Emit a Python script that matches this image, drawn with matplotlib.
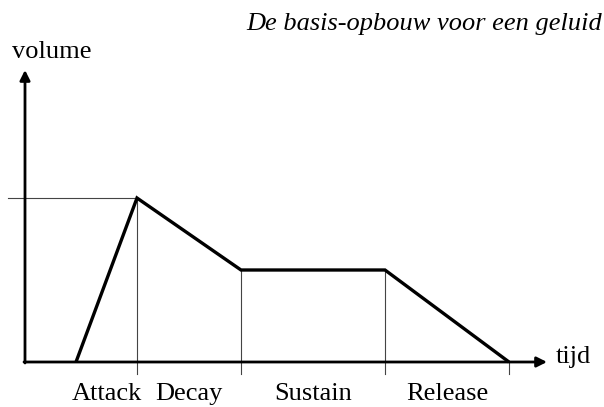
import matplotlib
matplotlib.use("Agg")
import matplotlib.pyplot as plt

# Envelope data (time units arbitrary, volume arbitrary)
env_time = [51, 112, 216, 360, 484]
env_volume = [0, 164, 92, 92, 0]
phase_labels = ["Attack", "Decay", "Sustain", "Release"]
title_text = "De basis-opbouw voor een geluid"
y_label = "volume"
x_label = "tijd"

W, H = 604, 407
fig = plt.figure(figsize=(W / 100, H / 100), dpi=100)
ax = fig.add_axes([0, 0, 1, 1])
ax.set_xlim(-25, W - 25)
ax.set_ylim(-(H - 362), 362)
ax.axis("off")

serif = ["Liberation Serif", "DejaVu Serif"]
fs = 19

# axes arrows
ax.annotate("", xy=(0, 292), xytext=(0, -1),
            arrowprops=dict(arrowstyle="-|>", lw=2.0, color="black",
                            mutation_scale=15, shrinkA=0, shrinkB=0))
ax.annotate("", xy=(522, 0), xytext=(-1, 0),
            arrowprops=dict(arrowstyle="-|>", lw=2.0, color="black",
                            mutation_scale=15, shrinkA=0, shrinkB=0))

# thin guide lines
peak_t, peak_v = env_time[1], env_volume[1]
ax.plot([-17, peak_t], [peak_v, peak_v], color="#444444", lw=0.8, zorder=1)
for t, v in zip(env_time[1:], env_volume[1:]):
    ax.plot([t, t], [v, -12], color="#444444", lw=0.8, zorder=1)

# envelope
ax.plot(env_time, env_volume, color="black", lw=2.4, solid_joinstyle="miter",
        solid_capstyle="butt", zorder=3)

# phase labels
for i, lab in enumerate(phase_labels):
    xc = (env_time[i] + env_time[i + 1]) / 2
    ax.text(xc, -38, lab, ha="center", va="baseline", fontsize=fs,
            family=serif)

ax.text(531, -1, x_label, ha="left", va="baseline", fontsize=fs, family=serif)
ax.text(-13, 362 - 58, y_label, ha="left", va="baseline", fontsize=fs,
        family=serif)
ax.text(W - 25 - 2, 362 - 30, title_text, ha="right", va="baseline",
        fontsize=fs, family=serif, style="italic")

fig.savefig("out.png", dpi=100)
